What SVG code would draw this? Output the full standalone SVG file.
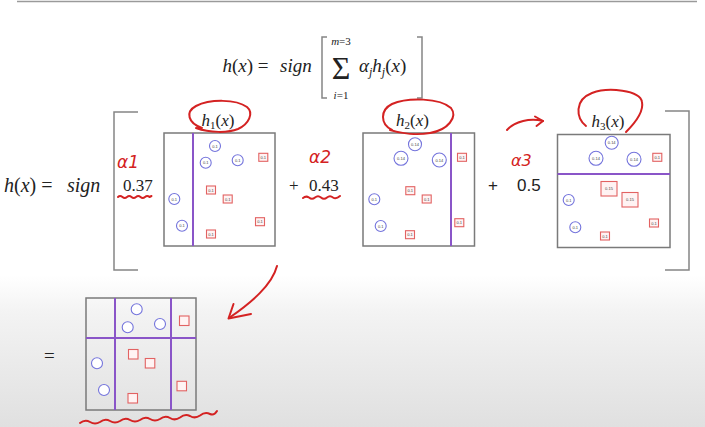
<svg xmlns="http://www.w3.org/2000/svg" width="705" height="427" viewBox="0 0 705 427">
<defs>
<linearGradient id="bg" x1="0" y1="0" x2="0" y2="1">
<stop offset="0" stop-color="#ffffff"/>
<stop offset="0.25" stop-color="#f3f3f3"/>
<stop offset="1" stop-color="#e0e0e0"/>
</linearGradient>
<style>
.m{font-family:"Liberation Serif","DejaVu Serif",serif;fill:#222}
.i{font-style:italic}
.sans{font-family:"Liberation Sans","Open Sans",sans-serif;fill:#222}
.box{fill:none;stroke:#7a7a7a;stroke-width:1.5}
.split{stroke:#8a55c8;stroke-width:2;fill:none}
.c{fill:#fff;stroke:#7474dc;stroke-width:1.1}
.s{fill:#fff3f3;stroke:#e26262;stroke-width:1.1}
.lbl{font-family:"Liberation Sans",sans-serif;font-size:4px;fill:#444;text-anchor:middle}
.brk{fill:none;stroke:#858585;stroke-width:1.5}
.ink{fill:none;stroke:#d42222;stroke-width:2;stroke-linecap:round;stroke-linejoin:round}
.inktxt{font-family:"DejaVu Sans",sans-serif;fill:#d42222;font-style:italic}
</style>
</defs>
<rect x="0" y="0" width="705" height="427" fill="#fff"/>
<rect x="0" y="275" width="705" height="152" fill="url(#bg)"/>
<line x1="17" y1="1.5" x2="697" y2="1.5" stroke="#9a9a9a" stroke-width="1.5"/>

<g id="formula-top">
<text class="m" x="222.5" y="72" font-size="19"><tspan class="i">h</tspan>(<tspan class="i">x</tspan>) =</text>
<text class="m i" x="280" y="72" font-size="19">sign</text>
<path class="brk" d="M327 37 H322 V98 H327" stroke="#222" stroke-width="1.4"/>
<text class="m" x="341" y="45" font-size="11" text-anchor="middle"><tspan class="i">m</tspan>=3</text>
<text class="m" x="341" y="79" font-size="32" text-anchor="middle">Σ</text>
<text class="m" x="341" y="99" font-size="11" text-anchor="middle"><tspan class="i">i</tspan>=1</text>
<text class="m" x="359" y="72" font-size="19"><tspan class="i">α</tspan><tspan class="i" font-size="12" dy="4">j</tspan><tspan class="i" dy="-4">h</tspan><tspan class="i" font-size="12" dy="4">j</tspan><tspan dy="-4">(</tspan><tspan class="i">x</tspan>)</text>
<path class="brk" d="M417 37 H422 V98 H417" stroke="#222" stroke-width="1.4"/>
</g>

<g id="formula-left">
<text class="m" x="4" y="192" font-size="20"><tspan class="i">h</tspan>(<tspan class="i">x</tspan>) =</text>
<text class="m i" x="67" y="192" font-size="20">sign</text>
<path class="brk" d="M138 112 H114 V270 H138"/>
<path class="brk" d="M665 111 H689 V270 H665"/>
</g>

<g id="weights">
<text class="m" x="123" y="191" font-size="17">0.37</text>
<text class="m" x="289" y="191" font-size="17">+</text>
<text class="m" x="309" y="191" font-size="17">0.43</text>
<text class="sans" x="488" y="191" font-size="17">+</text>
<text class="sans" x="517" y="191" font-size="17">0.5</text>
</g>

<g id="h1">
<text class="m" x="201.5" y="126" font-size="17"><tspan class="i">h</tspan><tspan font-size="11" dy="3">1</tspan><tspan dy="-3">(</tspan><tspan class="i">x</tspan>)</text>
<rect class="box" x="164" y="133" width="111" height="113"/>
<line class="split" x1="193" y1="133" x2="193" y2="246"/>
<circle class="c" cx="215" cy="146" r="5.5"/><text class="lbl" x="215" y="147.5">0.1</text>
<circle class="c" cx="205.7" cy="162.7" r="5.5"/><text class="lbl" x="205.7" y="164.2">0.1</text>
<circle class="c" cx="237.7" cy="160.3" r="5.5"/><text class="lbl" x="237.7" y="161.8">0.1</text>
<circle class="c" cx="174.3" cy="199" r="5.5"/><text class="lbl" x="174.3" y="200.5">0.1</text>
<circle class="c" cx="182" cy="225.7" r="5.5"/><text class="lbl" x="182" y="227.2">0.1</text>
<rect class="s" x="258.8" y="153.3" width="9" height="8"/><text class="lbl" x="263.3" y="158.8">0.1</text>
<rect class="s" x="206.5" y="186" width="9" height="8"/><text class="lbl" x="211" y="191.5">0.1</text>
<rect class="s" x="223.2" y="195" width="9" height="8"/><text class="lbl" x="227.7" y="200.5">0.1</text>
<rect class="s" x="255.5" y="217.7" width="9" height="8"/><text class="lbl" x="260" y="223.2">0.1</text>
<rect class="s" x="206.5" y="230" width="9" height="8"/><text class="lbl" x="211" y="235.5">0.1</text>
</g>

<g id="h2">
<text class="m" x="396" y="126" font-size="17"><tspan class="i">h</tspan><tspan font-size="11" dy="3">2</tspan><tspan dy="-3">(</tspan><tspan class="i">x</tspan>)</text>
<rect class="box" x="363" y="133" width="111.5" height="113"/>
<line class="split" x1="451" y1="133" x2="451" y2="246"/>
<circle class="c" cx="415" cy="144.3" r="6.5"/><text class="lbl" x="415" y="145.8">0.14</text>
<circle class="c" cx="401" cy="158.3" r="7"/><text class="lbl" x="401" y="159.8">0.14</text>
<circle class="c" cx="439.3" cy="160" r="7"/><text class="lbl" x="439.3" y="161.5">0.14</text>
<circle class="c" cx="374.3" cy="199.3" r="5.5"/><text class="lbl" x="374.3" y="200.8">0.1</text>
<circle class="c" cx="380.7" cy="226" r="5.5"/><text class="lbl" x="380.7" y="227.5">0.1</text>
<rect class="s" x="457.5" y="153.3" width="9" height="8"/><text class="lbl" x="462" y="158.8">0.1</text>
<rect class="s" x="405.8" y="186.7" width="9" height="8"/><text class="lbl" x="410.3" y="192.2">0.1</text>
<rect class="s" x="422.2" y="195" width="9" height="8"/><text class="lbl" x="426.7" y="200.5">0.1</text>
<rect class="s" x="454.8" y="218.7" width="9" height="8"/><text class="lbl" x="459.3" y="224.2">0.1</text>
<rect class="s" x="405.5" y="230.7" width="9" height="8"/><text class="lbl" x="410" y="236.2">0.1</text>
</g>

<g id="h3">
<text class="m" x="591.5" y="126.5" font-size="17"><tspan class="i">h</tspan><tspan font-size="11" dy="3">3</tspan><tspan dy="-3">(</tspan><tspan class="i">x</tspan>)</text>
<rect class="box" x="557.5" y="134.5" width="112.5" height="113"/>
<line class="split" x1="557.5" y1="174" x2="670" y2="174"/>
<circle class="c" cx="611.7" cy="142.7" r="6.5"/><text class="lbl" x="611.7" y="144.2">0.14</text>
<circle class="c" cx="596" cy="158.3" r="7"/><text class="lbl" x="596" y="159.8">0.14</text>
<circle class="c" cx="634" cy="159.3" r="7"/><text class="lbl" x="634" y="160.8">0.14</text>
<circle class="c" cx="568.7" cy="200" r="5.5"/><text class="lbl" x="568.7" y="201.5">0.1</text>
<circle class="c" cx="575.3" cy="227.3" r="5.5"/><text class="lbl" x="575.3" y="228.8">0.1</text>
<rect class="s" x="652.8" y="153.3" width="9" height="8"/><text class="lbl" x="657.3" y="158.8">0.1</text>
<rect class="s" x="601" y="181.5" width="16" height="14.5"/><text class="lbl" x="609" y="190.2">0.15</text>
<rect class="s" x="622" y="192.5" width="16" height="14.5"/><text class="lbl" x="630" y="201.2">0.15</text>
<rect class="s" x="649.5" y="219" width="9" height="8"/><text class="lbl" x="654" y="224.5">0.1</text>
<rect class="s" x="600.5" y="232" width="9" height="8"/><text class="lbl" x="605" y="237.5">0.1</text>
</g>

<g id="result">
<text class="m" x="44" y="362" font-size="19">=</text>
<rect class="box" x="86" y="298" width="110" height="112"/>
<line class="split" x1="115" y1="298" x2="115" y2="410"/>
<line class="split" x1="171" y1="298" x2="171" y2="410"/>
<line class="split" x1="86" y1="338" x2="196" y2="338"/>
<circle class="c" cx="136.7" cy="309.3" r="5.5" fill="none"/>
<circle class="c" cx="127.7" cy="327.3" r="5.5" fill="none"/>
<circle class="c" cx="160" cy="324" r="5.5" fill="none"/>
<circle class="c" cx="97" cy="363.3" r="5.5" fill="none"/>
<circle class="c" cx="104" cy="390" r="5.5" fill="none"/>
<rect class="s" x="179.5" y="316" width="9.5" height="9.5" fill="none"/>
<rect class="s" x="128.5" y="349.5" width="9.5" height="9.5" fill="none"/>
<rect class="s" x="145.3" y="358.5" width="9.5" height="9.5" fill="none"/>
<rect class="s" x="177" y="381.3" width="9.5" height="9.5" fill="none"/>
<rect class="s" x="128" y="393.5" width="9.5" height="9.5" fill="none"/>
</g>

<g id="connectors">
<path class="ink" d="M277 266 C272 285 252 302 229 318"/>
<path class="ink" d="M233.5 304 L228.5 318.5 L251 314"/>
<path class="ink" d="M507 130 C515 121 530 118 543 121"/>
<path class="ink" d="M535 116.5 L543 121 L536.5 126"/>
</g>

<g id="annotations">
<path class="ink" d="M202 128 C188 123 185 112 196 106 C210 99 236 99 247 107 C254 113 249 124 238 129 C228 133 210 133 196 128"/>
<path class="ink" d="M392 130 C380 124 380 110 392 104 C408 97 440 98 451 108 C458 117 448 130 430 133 C418 135 402 134 390 130"/>
<path class="ink" d="M586 126 C576 118 574 100 592 93 C608 87 640 90 642 102 C644 112 634 124 626 132"/>
<text class="inktxt" x="117" y="168" font-size="17">α1</text>
<text class="inktxt" x="309" y="163" font-size="17">α2</text>
<text class="inktxt" x="511" y="166" font-size="16">α3</text>
<path class="ink" stroke-width="1.6" d="M118 197 q2 -2 4.5 0 q2.2 2 4.5 0 q2.2 -2 4.5 0 q2.2 2 4.5 0 q2.2 -2 4.5 0 q2.2 2 4.5 0 q2.2 -2 4.5 0 l2 -1"/>
<path class="ink" stroke-width="1.6" d="M303 198 q3 -2.5 6 -0.5 q3 2.5 6 0 q3 -2.5 6 0 q3 2.5 6 0 q3 -2.5 6 0 q3 2 7 -1.5"/>
<path class="ink" d="M80 423 q5 -4 10 -1 q5 3 10 0 q5 -4 10 -1 q5 3 10 0 q5 -4 10 -1 q5 3 10 0 q5 -4 10 -1 q5 3 10 0 q5 -4 10 -1 q5 3 10 -0.5 q5 -4 10 -1.5 q5 3 10 -0.5 q5 -4 10 -1.5 q4 2 7 -3"/>
</g>
</svg>
